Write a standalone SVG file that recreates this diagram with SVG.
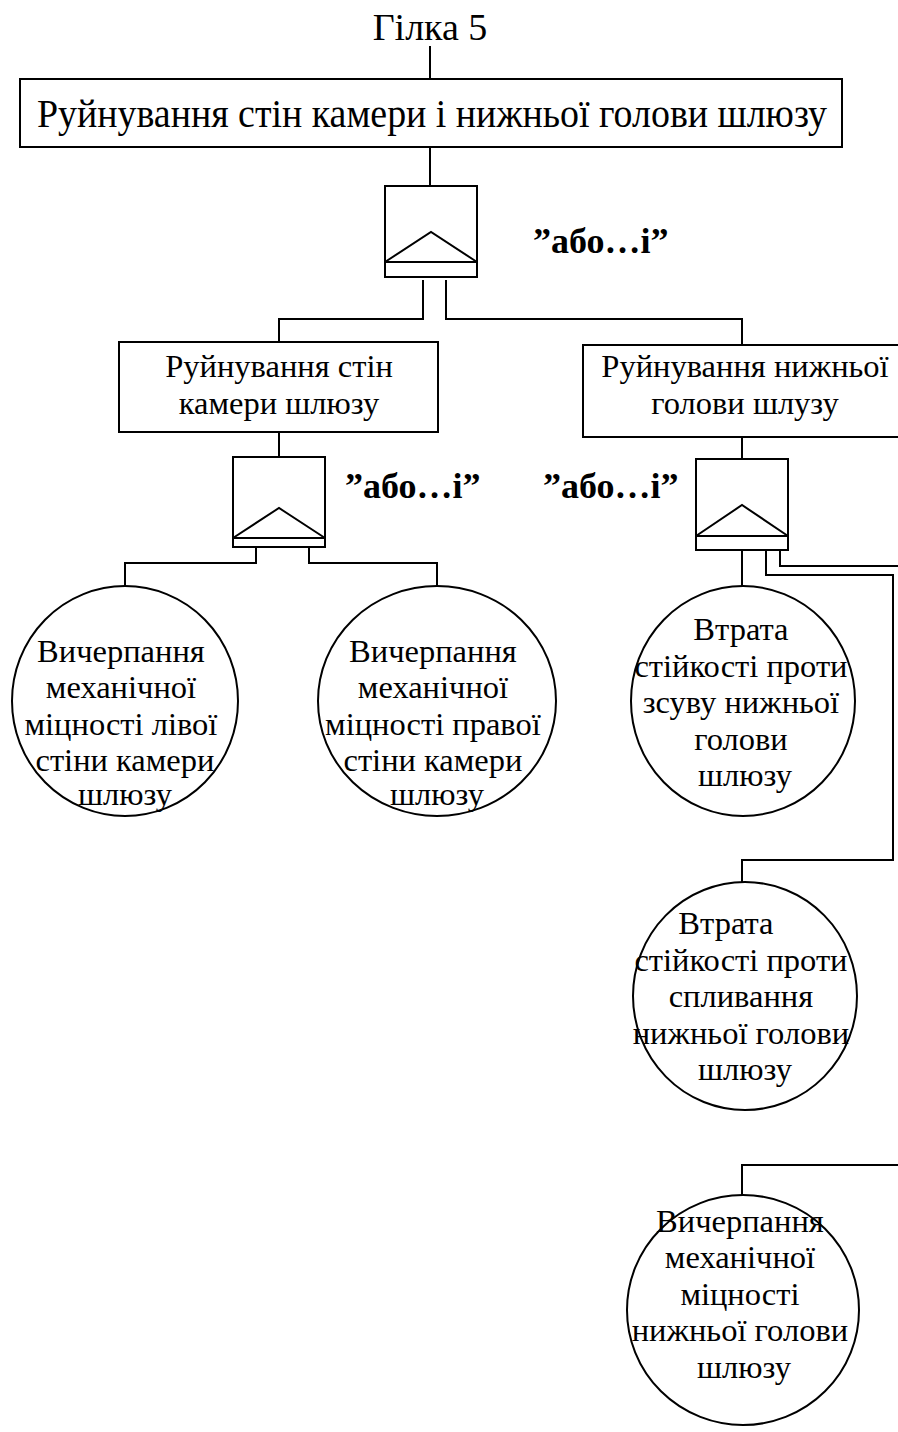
<svg xmlns="http://www.w3.org/2000/svg" width="898" height="1432" viewBox="0 0 898 1432">
<style>
  .box { fill: #fff; stroke: #000; stroke-width: 2; }
  .gate { fill: #fff; stroke: #000; stroke-width: 2; }
  .gl { fill: none; stroke: #000; stroke-width: 2; }
  .ev { fill: #fff; stroke: #000; stroke-width: 2; }
  .wire { fill: none; stroke: #000; stroke-width: 2; }
  .t { font-family: "Liberation Serif", "Times New Roman", serif; fill: #000; text-anchor: middle; }
  .s { font-size: 32.5px; }
  .lbl { font-family: "Liberation Serif", "Times New Roman", serif; font-weight: bold; font-size: 36px; fill: #000; }
</style>
<rect width="898" height="1432" fill="#fff"/>

<!-- connectors -->
<g id="connectors">
  <path class="wire" d="M430 46 V79"/>
  <path class="wire" d="M430 147 V186"/>
  <path class="wire" d="M423 280 V319 H279 V342"/>
  <path class="wire" d="M446 280 V319 H742 V345"/>
  <path class="wire" d="M279 432 V457"/>
  <path class="wire" d="M256 547 V563 H125 V587"/>
  <path class="wire" d="M309 547 V563 H437 V587"/>
  <path class="wire" d="M742 437 V459"/>
  <path class="wire" d="M742 550 V587"/>
  <path class="wire" d="M766 550 V575 H893 V860 H742 V882"/>
  <path class="wire" d="M780 550 V566 H898"/>
  <path class="wire" d="M898 1165 H742 V1195"/>
</g>

<g id="branch-title">
  <text class="t" x="430" y="40" font-size="38">Гілка 5</text>
</g>

<g id="top-event">
  <rect class="box" x="20" y="79" width="822" height="68"/>
  <text class="t" x="432" y="127" font-size="39" textLength="790" lengthAdjust="spacingAndGlyphs">Руйнування стін камери і нижньої голови шлюзу</text>
</g>

<g id="gate-1">
  <rect class="gate" x="385" y="186" width="92" height="91"/>
  <path class="gl" d="M385 262 H477 M385 262 L431 232 L477 262"/>
  <text class="lbl" x="533" y="253">”або…і”</text>
</g>

<g id="walls">
  <rect class="box" x="119" y="342" width="319" height="90"/>
  <text class="t s" x="279" y="377">Руйнування стін</text>
  <text class="t s" x="279" y="414">камери шлюзу</text>
</g>

<g id="lower-head">
  <rect class="box" x="583" y="345" width="330" height="92"/>
  <text class="t s" x="745" y="377">Руйнування нижньої</text>
  <text class="t s" x="745" y="414">голови шлузу</text>
</g>

<g id="gate-2">
  <rect class="gate" x="233" y="457" width="92" height="90"/>
  <path class="gl" d="M233 538 H325 M233 538 L279 508 L325 538"/>
  <text class="lbl" x="345" y="498">”або…і”</text>
</g>

<g id="gate-3">
  <rect class="gate" x="696" y="459" width="92" height="91"/>
  <path class="gl" d="M696 536 H788 M696 536 L742 505 L788 536"/>
  <text class="lbl" x="543" y="498">”або…і”</text>
</g>

<g id="left-wall-strength">
  <ellipse class="ev" cx="125" cy="701" rx="113" ry="115"/>
  <text class="t s">
    <tspan x="125" y="662">Вичерпання</tspan>
    <tspan x="125" y="698">механічної</tspan>
    <tspan x="125" y="735">міцності лівої</tspan>
    <tspan x="129" y="771">стіни камери</tspan>
    <tspan x="125" y="805">шлюзу</tspan>
  </text>
</g>

<g id="right-wall-strength">
  <ellipse class="ev" cx="437" cy="701" rx="119" ry="115"/>
  <text class="t s">
    <tspan x="437" y="662">Вичерпання</tspan>
    <tspan x="437" y="698">механічної</tspan>
    <tspan x="437" y="735">міцності правої</tspan>
    <tspan x="437" y="771">стіни камери</tspan>
    <tspan x="437" y="805">шлюзу</tspan>
  </text>
</g>

<g id="shear-stability">
  <ellipse class="ev" cx="743" cy="701" rx="112" ry="115"/>
  <text class="t s">
    <tspan x="745" y="640">Втрата</tspan>
    <tspan x="745" y="677">стійкості проти</tspan>
    <tspan x="745" y="713">зсуву нижньої</tspan>
    <tspan x="745" y="750">голови</tspan>
    <tspan x="745" y="786">шлюзу</tspan>
  </text>
</g>

<g id="uplift-stability">
  <ellipse class="ev" cx="745" cy="996" rx="112" ry="114"/>
  <text class="t s">
    <tspan x="730" y="934">Втрата</tspan>
    <tspan x="745" y="971">стійкості проти</tspan>
    <tspan x="745" y="1007">спливання</tspan>
    <tspan x="745" y="1044">нижньої голови</tspan>
    <tspan x="745" y="1080">шлюзу</tspan>
  </text>
</g>

<g id="head-strength">
  <ellipse class="ev" cx="743" cy="1310" rx="116" ry="115"/>
  <text class="t s">
    <tspan x="744" y="1232">Вичерпання</tspan>
    <tspan x="744" y="1268">механічної</tspan>
    <tspan x="744" y="1305">міцності</tspan>
    <tspan x="744" y="1341">нижньої голови</tspan>
    <tspan x="744" y="1378">шлюзу</tspan>
  </text>
</g>
</svg>
